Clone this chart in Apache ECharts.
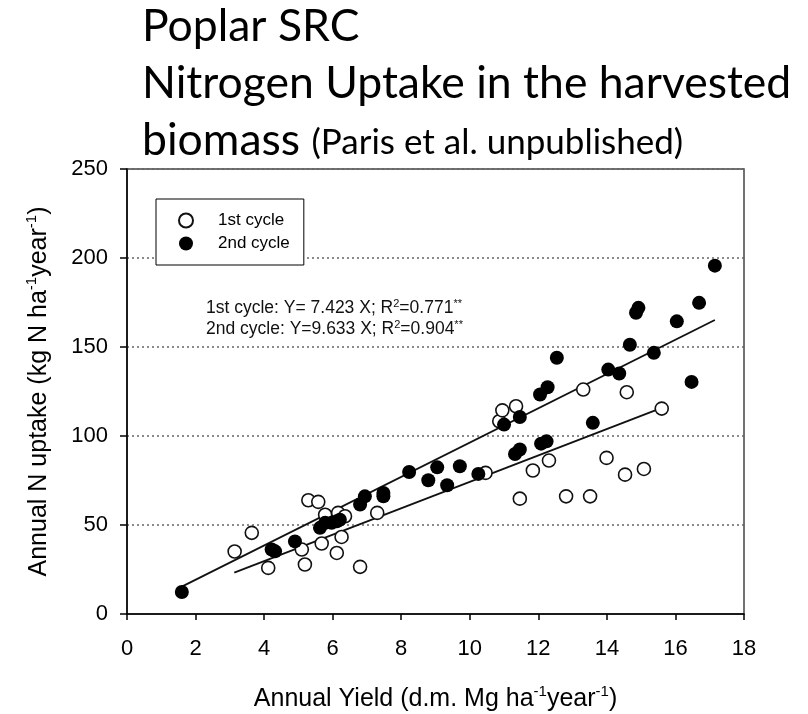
<!DOCTYPE html>
<html>
<head>
<meta charset="utf-8">
<script src="https://cdn.jsdelivr.net/npm/echarts@6/dist/echarts.min.js"></script>
<style>
  html, body { margin: 0; padding: 0; background: #fff; }
  #chart { width: 808px; height: 714px; }
</style>
</head>
<body>
<div id="chart"></div>
<script>
// 1st cycle (open circles): [yield, N uptake]
var cycle1 = [
  [3.14, 35.1], [3.64, 45.6], [4.12, 25.9], [5.10, 36.2], [5.19, 27.8],
  [5.29, 63.9], [5.58, 63.0], [5.68, 39.6], [5.78, 55.8], [6.16, 56.8],
  [6.36, 54.9], [6.26, 43.3], [6.12, 34.3], [6.80, 26.5], [7.30, 56.8],
  [10.46, 79.3], [10.86, 108.3], [10.95, 114.4], [11.35, 116.7], [11.46, 64.8],
  [11.84, 80.6], [12.31, 86.2], [12.81, 66.1], [13.31, 126.1], [13.51, 66.1],
  [13.99, 87.7], [14.53, 78.3], [14.58, 124.6], [15.08, 81.5], [15.60, 115.4]
];

// 2nd cycle (filled circles)
var cycle2 = [
  [1.60, 12.4], [4.22, 36.2], [4.32, 35.2], [4.90, 40.8], [5.63, 48.4],
  [5.78, 51.2], [5.97, 51.2], [6.12, 52.1], [6.21, 53.0], [6.80, 61.5],
  [6.94, 66.1], [7.48, 68.0], [7.48, 66.1], [8.23, 79.8], [8.79, 75.1],
  [9.05, 82.4], [9.34, 72.3], [9.71, 83.0], [10.25, 78.7], [11.00, 106.4],
  [11.46, 110.7], [11.32, 89.9], [11.46, 92.4], [12.08, 95.7], [12.24, 97.0],
  [12.05, 123.3], [12.27, 127.4], [12.54, 144.0], [13.59, 107.4], [14.04, 137.3],
  [14.36, 135.1], [14.67, 151.3], [14.85, 169.2], [14.92, 172.0], [15.37, 146.7],
  [16.04, 164.4], [16.47, 130.4], [16.69, 174.8], [17.15, 195.7]
];

// regression lines, end points
var fit1 = [[3.13, 23.2], [15.60, 115.8]];
var fit2 = [[1.60, 15.4], [17.15, 165.2]];

var seriesNames = ['1st cycle', '2nd cycle'];
var fitTexts = [
  '1st cycle: Y= 7.423 X; R{sup|2}=0.771{sup|**}',
  '2nd cycle: Y=9.633 X; R{sup|2}=0.904{sup|**}'
];

var myChart = echarts.init(document.getElementById('chart'));
var axisFont = 'Liberation Sans, Arial, sans-serif';

var option = {
  backgroundColor: '#fff',
  animation: false,
  title: {
    text: 'Poplar SRC\nNitrogen Uptake in the harvested\n{big|biomass} {small|(Paris et al. unpublished)}',
    left: 142,
    top: -2,
    padding: 0,
    textStyle: {
      fontFamily: 'Lato',
      fontWeight: 'normal',
      fontSize: 44.5,
      lineHeight: 57,
      color: '#000',
      rich: {
        big: { fontFamily: 'Lato', fontSize: 44.5, lineHeight: 57, color: '#000' },
        small: { fontFamily: 'Lato', fontSize: 35, lineHeight: 57, color: '#000', padding: [5, 0, 0, 0] }
      }
    }
  },
  legend: {
    data: seriesNames,
    orient: 'vertical',
    left: 156,
    top: 199,
    padding: [13, 14, 13, 22],
    itemGap: 6,
    itemWidth: 14,
    itemHeight: 14,
    borderColor: '#000',
    borderWidth: 1,
    backgroundColor: '#fff',
    textStyle: { fontFamily: axisFont, fontSize: 17, color: '#000', padding: [0, 0, 0, 20] }
  },
  grid: {
    left: 127, right: 64, top: 169, bottom: 100,
    outerBoundsMode: 'none',
    show: true, borderColor: '#444', borderWidth: 1.5
  },
  xAxis: {
    type: 'value',
    min: 0, max: 18, interval: 2,
    name: 'Annual Yield (d.m. Mg ha{sup|-1}year{sup|-1})',
    nameLocation: 'middle',
    nameGap: 70,
    nameTextStyle: {
      fontFamily: axisFont, fontSize: 25, color: '#000', lineHeight: 30,
      rich: { sup: { fontFamily: axisFont, fontSize: 15, verticalAlign: 'top', lineHeight: 30, color: '#000' } }
    },
    axisLine: { onZero: false, lineStyle: { color: '#000', width: 1.5 } },
    axisTick: { show: true, inside: false, length: 6, lineStyle: { color: '#000', width: 1.5 } },
    axisLabel: { fontFamily: axisFont, fontSize: 22, color: '#000', margin: 24 },
    splitLine: { show: false }
  },
  yAxis: {
    type: 'value',
    min: 0, max: 250, interval: 50,
    name: 'Annual N uptake (kg N ha{sup|-1}year{sup|-1})',
    nameLocation: 'middle',
    nameGap: 73,
    nameTextStyle: {
      fontFamily: axisFont, fontSize: 25, color: '#000', lineHeight: 30,
      rich: { sup: { fontFamily: axisFont, fontSize: 15, verticalAlign: 'top', lineHeight: 30, color: '#000' } }
    },
    axisLine: { show: true, onZero: false, lineStyle: { color: '#000', width: 1.5 } },
    axisTick: { show: true, inside: false, length: 7, lineStyle: { color: '#000', width: 1.5 } },
    axisLabel: { fontFamily: axisFont, fontSize: 22, color: '#000', margin: 19 },
    splitLine: { show: true, lineStyle: { type: [2, 3], color: '#666', width: 1.5 } }
  },
  graphic: [
    {
      type: 'text', left: 206, top: 298,
      style: {
        text: fitTexts[0],
        font: '17.5px ' + axisFont, fill: '#111',
        rich: { sup: { fontSize: 11, verticalAlign: 'top', lineHeight: 20, fill: '#111' } }
      }
    },
    {
      type: 'text', left: 206, top: 319,
      style: {
        text: fitTexts[1],
        font: '17.5px ' + axisFont, fill: '#111',
        rich: { sup: { fontSize: 11, verticalAlign: 'top', lineHeight: 20, fill: '#111' } }
      }
    }
  ],
  series: [
    {
      name: 'fit 1', type: 'line', data: fit1, showSymbol: false, silent: true,
      lineStyle: { color: '#111', width: 1.8 }, z: 1
    },
    {
      name: 'fit 2', type: 'line', data: fit2, showSymbol: false, silent: true,
      lineStyle: { color: '#111', width: 1.8 }, z: 1
    },
    {
      name: seriesNames[0], type: 'scatter', data: cycle1,
      symbol: 'circle', symbolSize: 13,
      itemStyle: { color: '#fff', borderColor: '#111', borderWidth: 1.6, opacity: 1 },
      z: 3
    },
    {
      name: seriesNames[1], type: 'scatter', data: cycle2,
      symbol: 'circle', symbolSize: 14,
      itemStyle: { color: '#000', borderColor: '#000', borderWidth: 0, opacity: 1 },
      z: 4
    }
  ]
};

myChart.setOption(option);
window.addEventListener('resize', function() {
  myChart.resize();
});
</script>
</body>
</html>
